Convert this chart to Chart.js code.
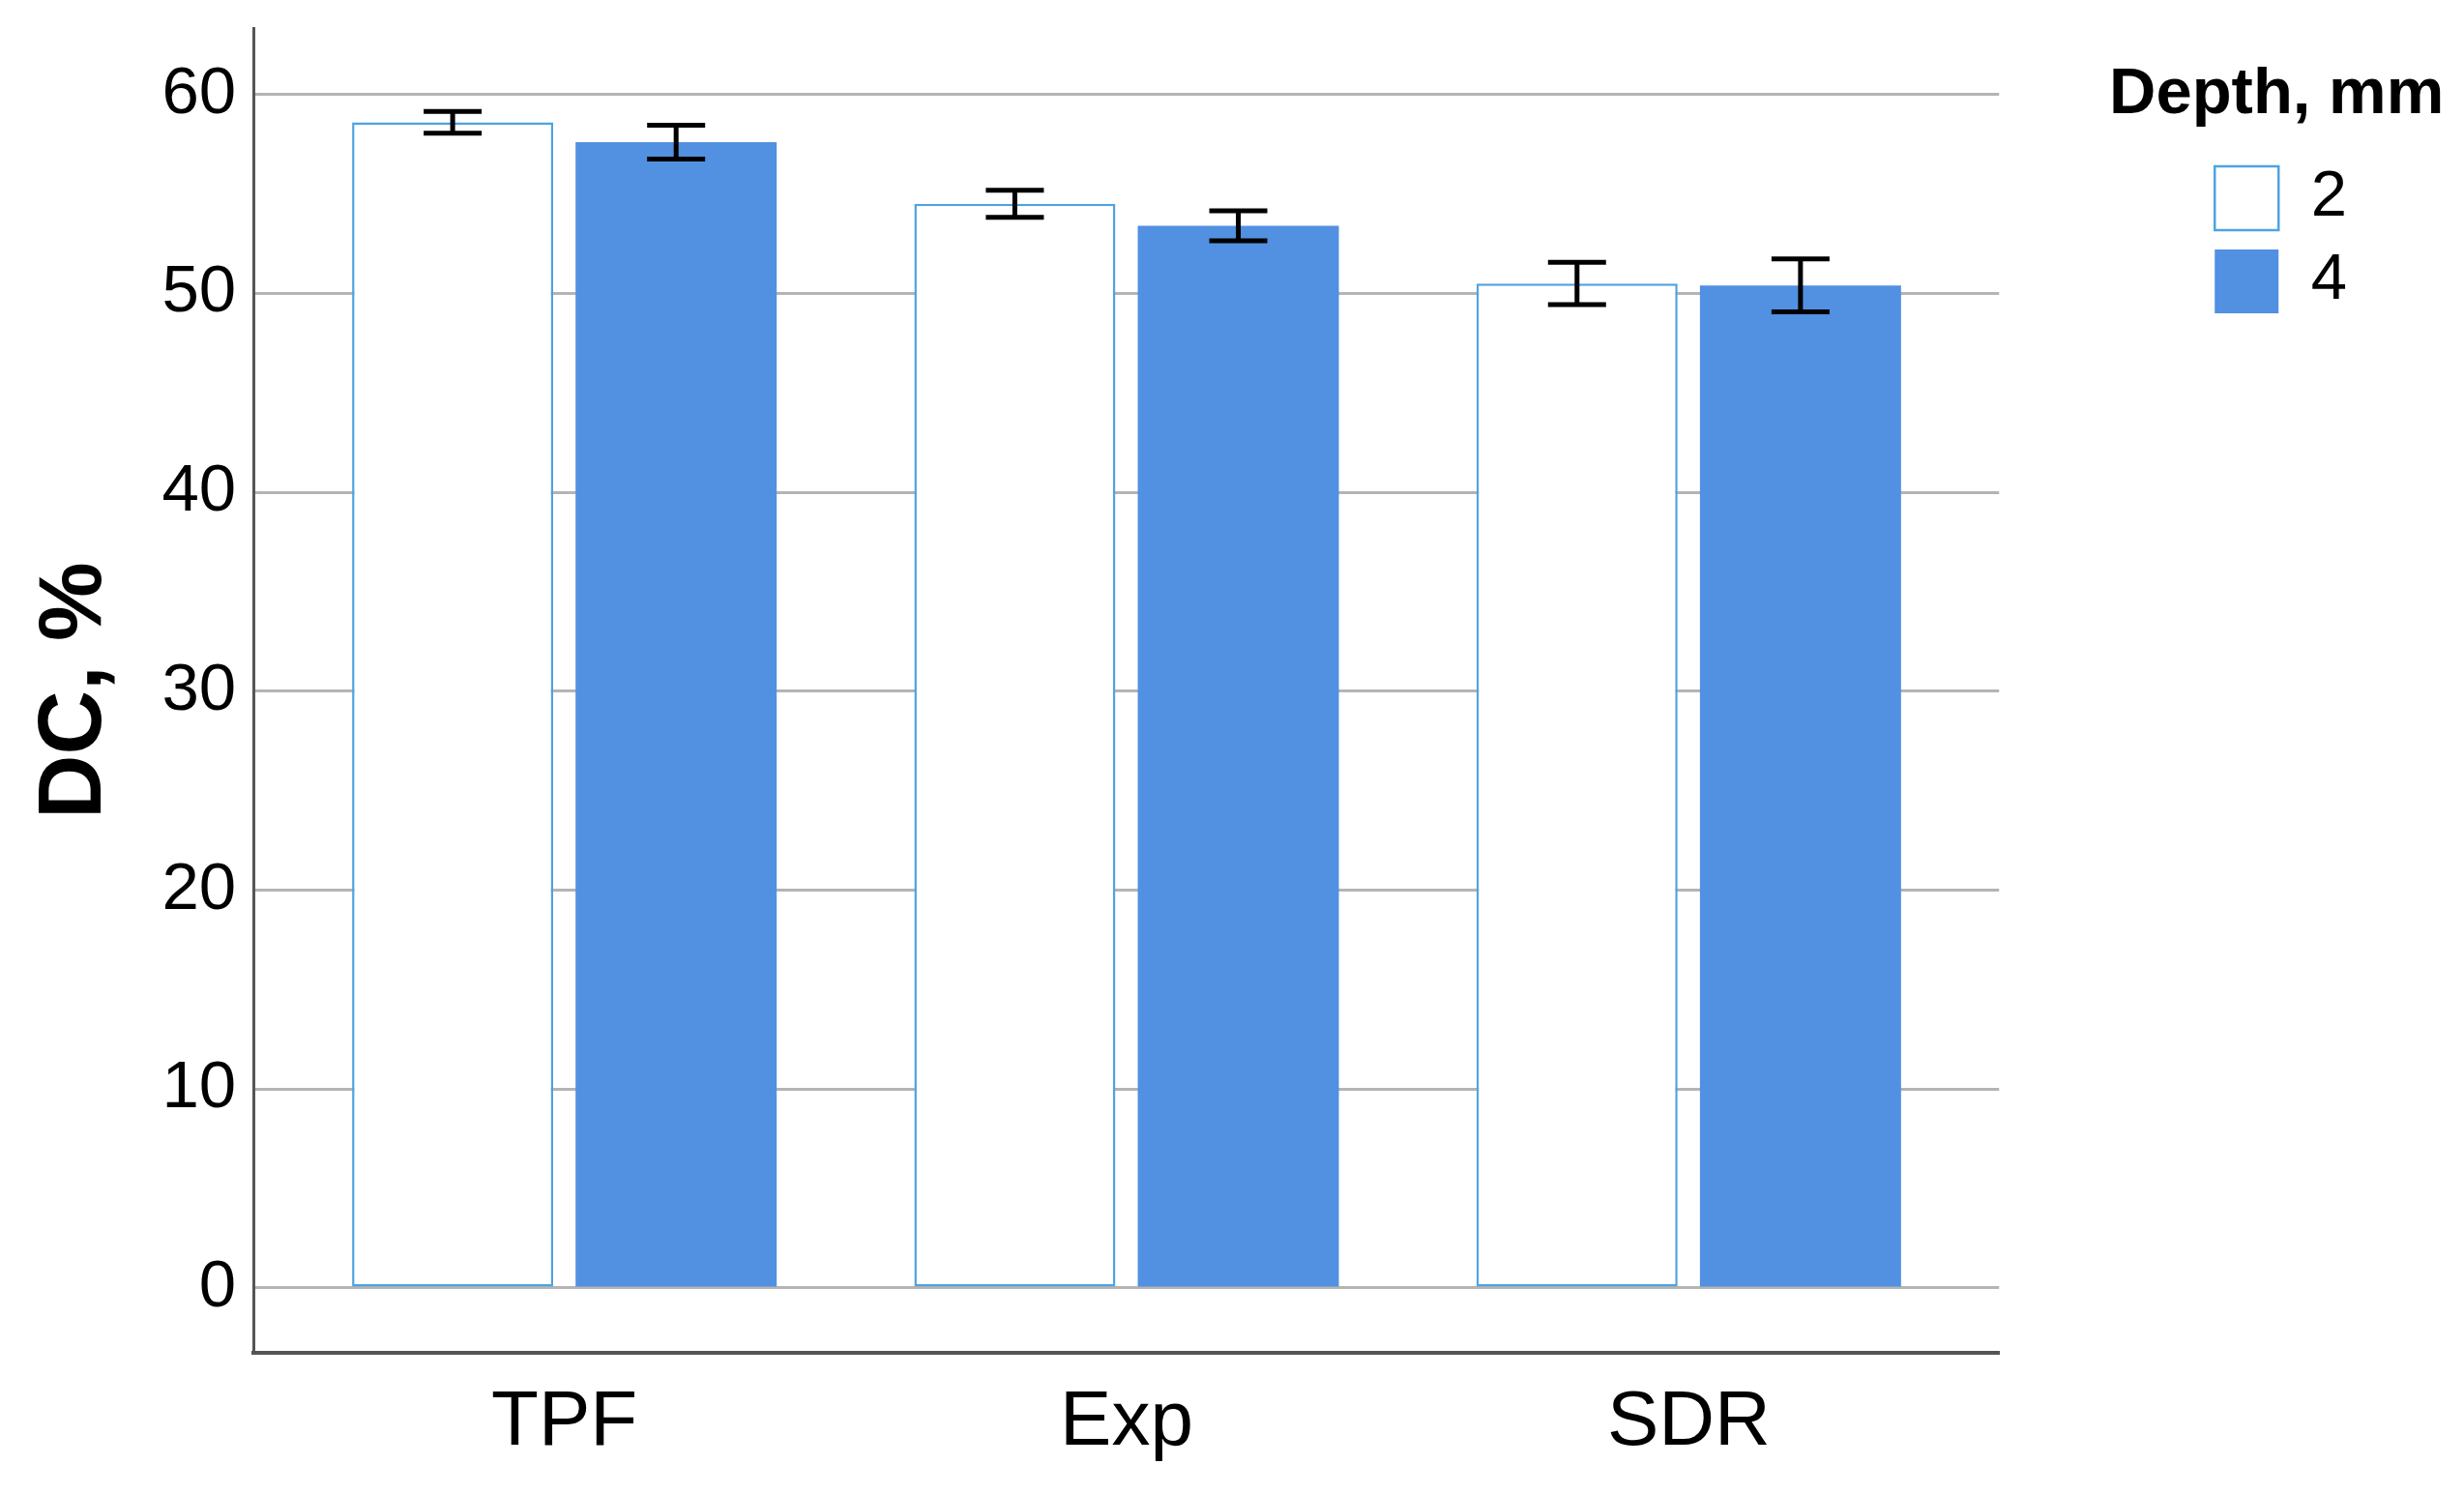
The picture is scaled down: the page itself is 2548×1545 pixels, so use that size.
<!DOCTYPE html>
<html>
<head>
<meta charset="utf-8">
<title>DC by depth</title>
<script src="https://cdn.jsdelivr.net/npm/chart.js@4.4.1/dist/chart.umd.min.js"></script>
<style>
  html, body { margin: 0; padding: 0; background: #fff; }
  canvas { display: block; }
</style>
</head>
<body>
<canvas id="dcChart" width="2548" height="1545"></canvas>
<script>
// Data
const categories = ['TPF', 'Exp', 'SDR'];
const depthLabels = ['2', '4'];
const dc2 = [58.6, 54.5, 50.5];
const dc4 = [57.6, 53.4, 50.4];
const err2 = [0.55, 0.68, 1.06];
const err4 = [0.85, 0.75, 1.33];
const yTicks = [0, 10, 20, 30, 40, 50, 60];

const FONT = '"Liberation Sans", Arial, sans-serif';

// error bars drawn on top of each bar, using the y scale
const errorBars = {
    id: 'errorBars',
    afterDatasetsDraw(chart) {
        const ctx = chart.ctx;
        const yScale = chart.scales.y;
        const errs = [err2, err4];
        ctx.save();
        ctx.strokeStyle = '#000';
        ctx.lineWidth = 5;
        chart.data.datasets.forEach((ds, di) => {
            const meta = chart.getDatasetMeta(di);
            meta.data.forEach((bar, i) => {
                const v = ds.data[i].y;
                const top = yScale.getPixelForValue(v + errs[di][i]);
                const bot = yScale.getPixelForValue(v - errs[di][i]);
                const half = 30;
                ctx.beginPath();
                ctx.moveTo(bar.x, top);
                ctx.lineTo(bar.x, bot);
                ctx.moveTo(bar.x - half, top);
                ctx.lineTo(bar.x + half, top);
                ctx.moveTo(bar.x - half, bot);
                ctx.lineTo(bar.x + half, bot);
                ctx.stroke();
            });
        });
        ctx.restore();
    }
};

// the legend title is wider than the legend box, so don't clip it
const legendNoClip = {
    id: 'legendNoClip',
    afterLayout(chart) {
        const lg = chart.legend;
        if (lg && !lg._noClip) {
            lg._noClip = true;
            lg.draw = function () { if (this.options.display) this._draw(); };
        }
    }
};

const ctx = document.getElementById('dcChart').getContext('2d');
const dcChart = new Chart(ctx, {
    type: 'bar',
    data: {
        datasets: [{
            label: depthLabels[0],
            data: categories.map((c, i) => ({ x: i, y: dc2[i] })),
            backgroundColor: '#ffffff',
            borderColor: '#4ea3e2',
            borderWidth: 2.5,
            borderSkipped: false
        }, {
            label: depthLabels[1],
            data: categories.map((c, i) => ({ x: i, y: dc4[i] })),
            backgroundColor: '#5290e1',
            borderColor: '#5290e1',
            borderWidth: 0
        }]
    },
    options: {
        responsive: false,
        devicePixelRatio: 1,
        animation: false,
        categoryPercentage: 0.795,
        barPercentage: 0.9,
        layout: { padding: { top: 29, right: 111, bottom: 0, left: 0 } },
        scales: {
            x: {
                type: 'linear',
                offset: false,
                min: -0.553,
                max: 2.552,
                afterBuildTicks: (scale) => { scale.ticks = categories.map((c, i) => ({ value: i })); },
                afterFit: (scale) => { scale.paddingLeft = 0; scale.paddingRight = 0; },
                grid: { display: false, drawTicks: false, offset: false },
                border: { display: true, color: '#555555', width: 4 },
                ticks: {
                    padding: 25,
                    color: '#000',
                    font: { family: FONT, size: 80 },
                    callback: (v) => categories[v]
                }
            },
            y: {
                min: -3.26,
                max: 63.34,
                afterBuildTicks: (scale) => { scale.ticks = yTicks.map(v => ({ value: v })); },
                afterFit: (scale) => { scale.paddingTop = 0; scale.paddingBottom = 0; },
                grid: { color: '#b4b4b4', lineWidth: 3, drawTicks: false },
                border: { display: true, color: '#555555', width: 3 },
                ticks: {
                    padding: 18,
                    color: '#000',
                    font: { family: FONT, size: 69 }
                },
                title: {
                    display: true,
                    text: 'DC, %',
                    color: '#000',
                    padding: { top: 23, bottom: 16 },
                    font: { family: FONT, size: 92, weight: 'bold' }
                }
            },
            gap: {
                type: 'linear',
                position: 'right',
                display: true,
                grid: { display: false, drawTicks: false },
                border: { display: false },
                ticks: { display: false },
                afterFit: (scale) => { scale.width = 204; }
            }
        },
        plugins: {
            legend: {
                position: 'right',
                align: 'start',
                title: {
                    display: true,
                    text: 'Depth, mm',
                    color: '#000',
                    padding: { top: 36, bottom: 7 },
                    font: { family: FONT, size: 67, weight: 'bold' }
                },
                labels: {
                    boxWidth: 66,
                    boxHeight: 66,
                    padding: 19,
                    color: '#000',
                    font: { family: FONT, size: 67 }
                }
            },
            tooltip: { enabled: false }
        }
    },
    plugins: [errorBars, legendNoClip]
});
</script>
</body>
</html>
